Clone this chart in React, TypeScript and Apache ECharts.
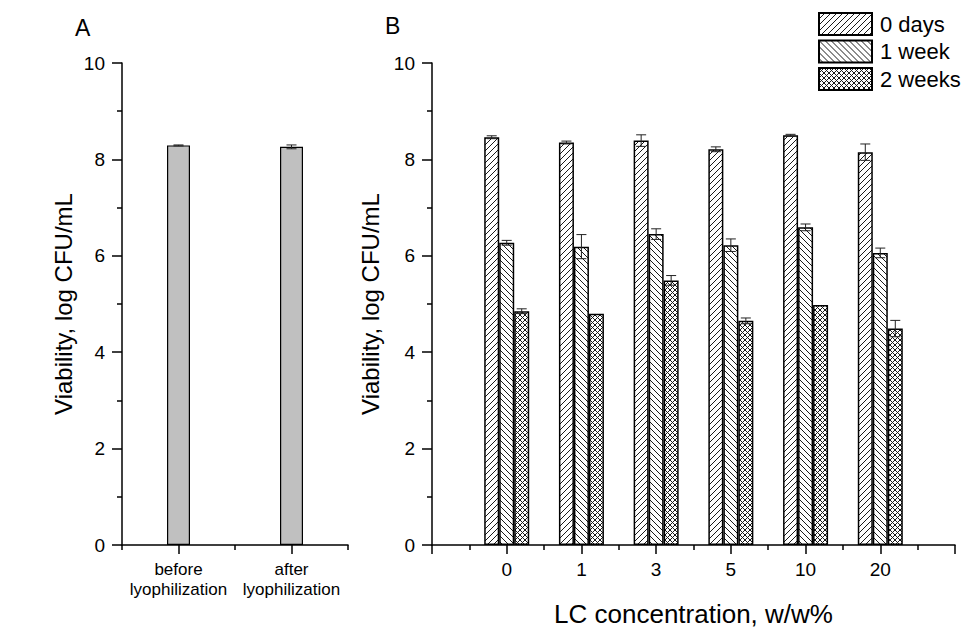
import React, { useEffect, useRef } from 'react';
import * as echarts from 'echarts';

// Panel A
const panelACategories = ['before\nlyophilization', 'after\nlyophilization'];
const panelAValues = [8.29, 8.26];
const panelAErrors = [0.01, 0.04];

// Panel B
const concentrations = ['0', '1', '3', '5', '10', '20'];
const seriesNames = ['0 days', '1 week', '2 weeks'];
const days0Values = [8.46, 8.35, 8.39, 8.21, 8.5, 8.15];
const days0Errors = [0.03, 0.03, 0.12, 0.05, 0.02, 0.17];
const week1Values = [6.27, 6.19, 6.45, 6.22, 6.59, 6.06];
const week1Errors = [0.05, 0.25, 0.11, 0.13, 0.07, 0.1];
const week2Values = [4.85, 4.8, 5.49, 4.65, 4.98, 4.49];
const week2Errors = [0.05, 0, 0.1, 0.06, 0, 0.17];

const yAxisTitle = 'Viability, log CFU/mL';
const xAxisTitleB = 'LC concentration, w/w%';

const FONT = 'Arial, "Liberation Sans", sans-serif';

function makeHatch(kind: 'fwd' | 'back' | 'cross', size: number) {
  const c = document.createElement('canvas');
  c.width = size;
  c.height = size;
  const ctx = c.getContext('2d')!;
  ctx.fillStyle = '#ffffff';
  ctx.fillRect(0, 0, size, size);
  ctx.strokeStyle = '#1a1a1a';
  ctx.lineWidth = 1;
  const fwd = () => {
    ctx.beginPath();
    ctx.moveTo(-1, size + 1);
    ctx.lineTo(size + 1, -1);
    ctx.moveTo(-1, 1);
    ctx.lineTo(1, -1);
    ctx.moveTo(size - 1, size + 1);
    ctx.lineTo(size + 1, size - 1);
    ctx.stroke();
  };
  const back = () => {
    ctx.beginPath();
    ctx.moveTo(-1, -1);
    ctx.lineTo(size + 1, size + 1);
    ctx.moveTo(size - 1, -1);
    ctx.lineTo(size + 1, 1);
    ctx.moveTo(-1, size - 1);
    ctx.lineTo(1, size + 1);
    ctx.stroke();
  };
  if (kind === 'fwd') fwd();
  else if (kind === 'back') back();
  else {
    fwd();
    back();
  }
  return { image: c, repeat: 'repeat' } as any;
}

function errorRender(offset: number, capHalf: number) {
  return (params: any, api: any) => {
    const x = api.value(0);
    const y = api.value(1);
    const e = api.value(2);
    if (!e) return { type: 'group', children: [] };
    const top = api.coord([x, y + e]);
    const bot = api.coord([x, y - e]);
    const cx = top[0] + offset;
    const st = { stroke: '#222', lineWidth: 1 };
    return {
      type: 'group',
      children: [
        { type: 'line', shape: { x1: cx, y1: top[1], x2: cx, y2: bot[1] }, style: st },
        { type: 'line', shape: { x1: cx - capHalf, y1: top[1], x2: cx + capHalf, y2: top[1] }, style: st },
        { type: 'line', shape: { x1: cx - capHalf, y1: bot[1], x2: cx + capHalf, y2: bot[1] }, style: st },
      ],
    };
  };
}

export default function App() {
  const ref = useRef<HTMLDivElement>(null);
  useEffect(() => {
    if (!ref.current) return;
    const chart = echarts.init(ref.current, undefined, { renderer: 'svg' });

    const patterns = [makeHatch('fwd', 6), makeHatch('back', 6), makeHatch('cross', 5)];
    const bValues = [days0Values, week1Values, week2Values];
    const bErrors = [days0Errors, week1Errors, week2Errors];
    const paddedCats = ['', ...concentrations, ''];
    const BAR_B = 15;

    const axisLineStyle = { color: '#000', width: 1.5 };
    const yAxisCommon = (gridIndex: number) => ({
      type: 'value',
      gridIndex,
      min: 0,
      max: 10,
      interval: 2,
      axisLine: { show: true, lineStyle: axisLineStyle },
      axisTick: { show: true, length: 10, lineStyle: { color: '#000', width: 1.5 } },
      minorTick: { show: true, splitNumber: 2, length: 5, lineStyle: { color: '#000', width: 1.5 } },
      axisLabel: { fontSize: 19, color: '#000', margin: 17, fontFamily: FONT },
      splitLine: { show: false },
      minorSplitLine: { show: false },
      name: yAxisTitle,
      nameLocation: 'middle',
      nameGap: 47,
      nameTextStyle: { fontSize: 24, color: '#000', fontFamily: FONT },
    });

    const series: any[] = [];
    series.push({
      type: 'bar',
      xAxisIndex: 0,
      yAxisIndex: 0,
      data: panelAValues,
      barWidth: 23,
      itemStyle: { color: '#c0c0c0', borderColor: '#000', borderWidth: 1.2 },
    });
    series.push({
      type: 'custom',
      xAxisIndex: 0,
      yAxisIndex: 0,
      z: 10,
      data: panelAValues.map((v, i) => [i, v, panelAErrors[i]]),
      renderItem: errorRender(0, 5),
    });
    seriesNames.forEach((name, k) => {
      series.push({
        type: 'bar',
        name,
        xAxisIndex: 2,
        yAxisIndex: 1,
        data: ['-', ...bValues[k], '-'],
        barWidth: BAR_B,
        barGap: '0%',
        itemStyle: { color: patterns[k], borderColor: '#000', borderWidth: 1.5 },
      });
    });
    seriesNames.forEach((name, k) => {
      series.push({
        type: 'custom',
        xAxisIndex: 2,
        yAxisIndex: 1,
        z: 10,
        data: bValues[k].map((v, i) => [i + 1, v, bErrors[k][i]]),
        renderItem: errorRender((k - 1) * BAR_B, 5),
      });
    });

    chart.setOption({
      animation: false,
      backgroundColor: '#fff',
      textStyle: { fontFamily: FONT },
      grid: [
        { left: 122, top: 63, width: 226, height: 482 },
        { left: 432, top: 63, width: 523, height: 482 },
      ],
      legend: {
        data: seriesNames.map((n) => ({ name: n, icon: 'rect' })),
        orient: 'vertical',
        left: 818,
        top: 12,
        padding: 0,
        itemWidth: 53,
        itemHeight: 22,
        itemGap: 3.5,
        textStyle: { fontSize: 22, color: '#000', fontFamily: FONT, lineHeight: 22, padding: [0, 0, 0, 3] },
        selectedMode: false,
      },
      xAxis: [
        {
          type: 'category',
          gridIndex: 0,
          position: 'bottom',
          data: panelACategories,
          boundaryGap: true,
          axisLine: { show: true, lineStyle: axisLineStyle },
          axisTick: { show: true, alignWithLabel: true, length: 9, lineStyle: { color: '#000', width: 1.5 } },
          axisLabel: { fontSize: 17, lineHeight: 20, color: '#000', margin: 14, interval: 0, fontFamily: FONT },
          splitLine: { show: false },
        },
        {
          type: 'value',
          gridIndex: 0,
          position: 'bottom',
          min: 0,
          max: 2,
          interval: 1,
          axisLine: { show: false },
          axisTick: { show: true, length: 5, lineStyle: { color: '#000', width: 1.5 } },
          axisLabel: { show: false },
          splitLine: { show: false },
        },
        {
          type: 'category',
          gridIndex: 1,
          position: 'bottom',
          data: paddedCats,
          boundaryGap: false,
          axisLine: { show: true, lineStyle: axisLineStyle },
          axisTick: { show: false },
          axisLabel: { fontSize: 19, color: '#000', margin: 15, interval: 0, fontFamily: FONT },
          splitLine: { show: false },
          name: xAxisTitleB,
          nameLocation: 'middle',
          nameGap: 56,
          nameTextStyle: { fontSize: 26, color: '#000', fontFamily: FONT },
        },
        {
          type: 'value',
          gridIndex: 1,
          position: 'bottom',
          min: 0,
          max: 7,
          interval: 1,
          axisLine: { show: false },
          axisTick: { show: true, length: 9, lineStyle: { color: '#000', width: 1.5 } },
          minorTick: { show: true, splitNumber: 2, length: 5, lineStyle: { color: '#000', width: 1.5 } },
          axisLabel: { show: false },
          splitLine: { show: false },
          minorSplitLine: { show: false },
        },
      ],
      yAxis: [yAxisCommon(0), yAxisCommon(1)],
      graphic: [
        { type: 'text', left: 75, top: 16, style: { text: 'A', fontSize: 23, fill: '#000', fontFamily: FONT } },
        { type: 'text', left: 385, top: 14, style: { text: 'B', fontSize: 23, fill: '#000', fontFamily: FONT } },
      ],
      series,
    } as any);

    return () => chart.dispose();
  }, []);

  return <div ref={ref} style={{ position: 'fixed', left: 0, top: 0, width: 973, height: 637 }} />;
}
